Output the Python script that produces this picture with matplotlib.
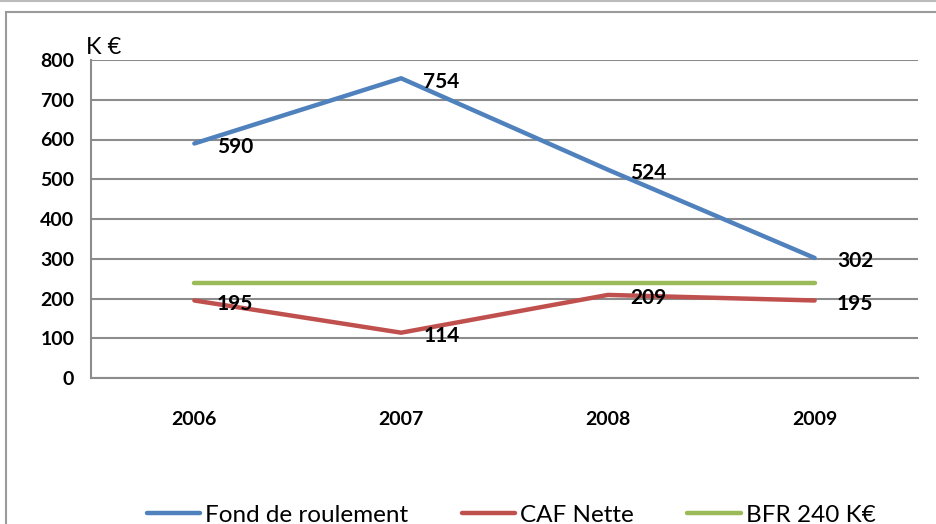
import numpy as np
import matplotlib.pyplot as plt
from matplotlib.patches import Rectangle

# Data
years = ["2006", "2007", "2008", "2009"]
fond_roulement = [590, 754, 524, 302]
caf_nette = [195, 114, 209, 195]
bfr = [240, 240, 240, 240]

series_names = ["Fond de roulement", "CAF Nette", "BFR 240 K€"]
colors = ["#4F81BD", "#C0504D", "#9BBB59"]

plt.rcParams['font.family'] = ['Lato', 'DejaVu Sans']

fig = plt.figure(figsize=(9.36, 5.24), dpi=100)
# chart frame (excel-like)
fig.patches.append(Rectangle((6 / 936, -0.1), 1.0, 1 - 12 / 524 + 0.1, transform=fig.transFigure,
                             fill=False, edgecolor="#9a9a9a", linewidth=1.5))
fig.patches.append(Rectangle((0, 1 - 1 / 524), 1.0, 0.0, transform=fig.transFigure,
                             fill=False, edgecolor="#bbbbbb", linewidth=1.5))

ax = fig.add_axes([91 / 936, 1 - 378 / 524, (918 - 91) / 936, (378 - 60) / 524])
x = np.arange(len(years))

ax.plot(x, fond_roulement, color=colors[0], lw=3.2, solid_capstyle='round', solid_joinstyle='round', label=series_names[0], zorder=3)
ax.plot(x, caf_nette, color=colors[1], lw=3.2, solid_capstyle='round', solid_joinstyle='round', label=series_names[1], zorder=3)
ax.plot(x, bfr, color=colors[2], lw=3.2, solid_capstyle='round', label=series_names[2], zorder=3)

for vals in (fond_roulement, caf_nette):
    for xi, v in zip(x, vals):
        ax.annotate(str(v), (xi, v), xytext=(16, -2.5), textcoords='offset points',
                    ha='left', va='center', fontsize=15, fontweight='bold', color='black', zorder=4)

ax.set_xlim(-0.5, 3.5)
ax.set_ylim(0, 800)
ax.set_yticks(range(0, 801, 100))
ax.set_xticks(x, labels=years)
ax.yaxis.grid(True, color="#8c8c8c", lw=1.5)
ax.set_axisbelow(True)
for s in ["top", "right"]:
    ax.spines[s].set_visible(False)
for s in ["left", "bottom"]:
    ax.spines[s].set_color("#8c8c8c")
    ax.spines[s].set_linewidth(1.5)
ax.tick_params(axis='both', length=0, labelsize=14)
ax.tick_params(axis='y', pad=12)
ax.tick_params(axis='x', pad=24)
for lab in ax.get_xticklabels() + ax.get_yticklabels():
    lab.set_fontweight('bold')

fig.text(86 / 936, 1 - 47 / 524, "K €", fontsize=17, ha='left', va='center')

fig.legend(loc='center', bbox_to_anchor=(0.546, 1 - 515 / 524), ncol=3, frameon=False,
           fontsize=17.5, handlelength=2.2, handletextpad=0.2, columnspacing=2.2)

fig.savefig("out.png", dpi=100)
